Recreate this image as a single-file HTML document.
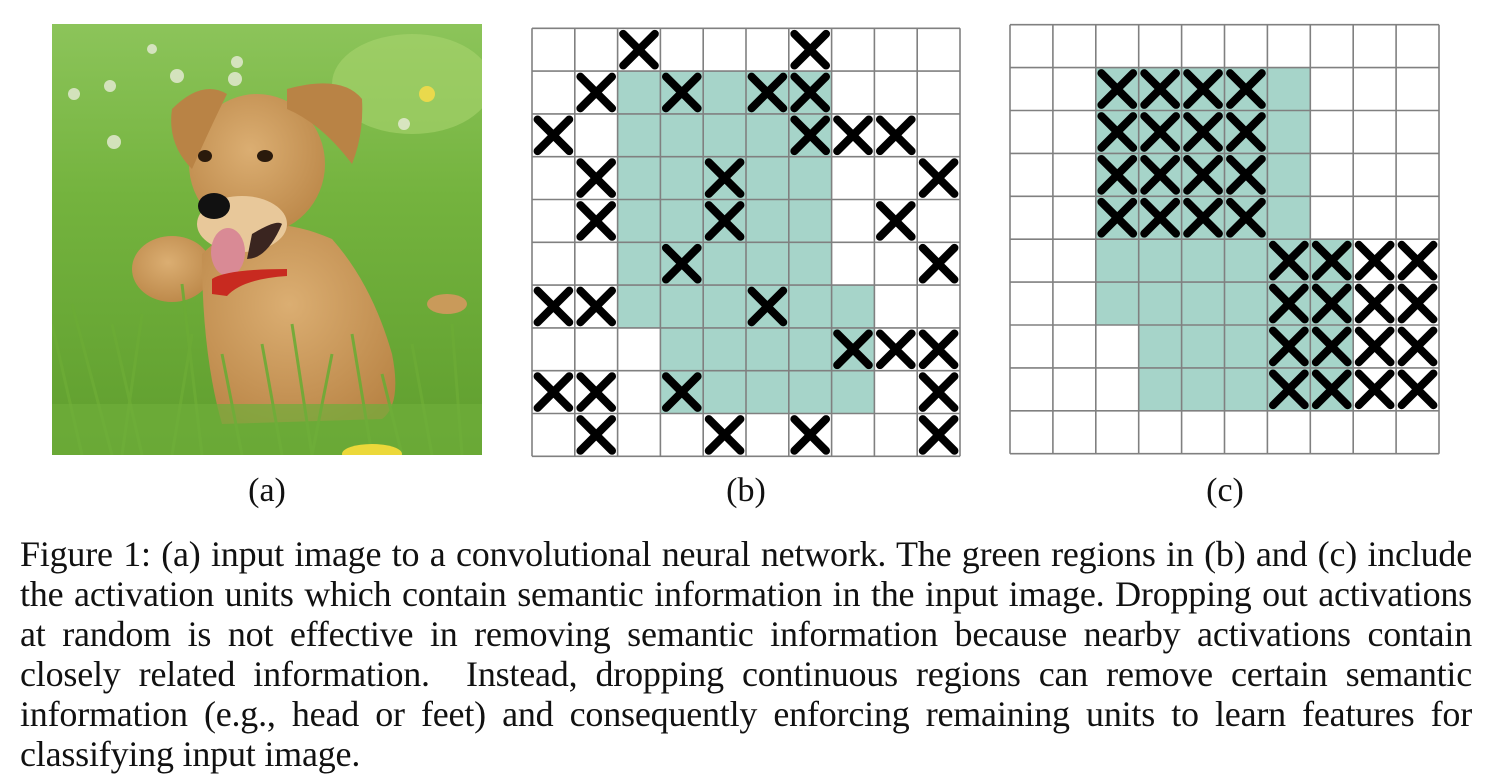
<!DOCTYPE html>
<html><head><meta charset="utf-8"><style>
html,body{margin:0;padding:0;background:#fff;}
body{width:1492px;height:781px;position:relative;overflow:hidden;font-family:"Liberation Serif",serif;color:#111;}
.lbl{position:absolute;font-size:34px;line-height:40px;top:471px;width:100px;text-align:center;}
#caption{position:absolute;left:20px;top:534px;width:1452px;font-size:36px;line-height:40px;letter-spacing:-0.2px;}
#caption div{height:40px;text-align:justify;text-align-last:justify;white-space:nowrap;}
#caption div.last{text-align-last:left;}
</style></head><body>
<svg style="position:absolute;left:52px;top:24px" width="430" height="431" viewBox="0 0 430 431">
<defs>
<linearGradient id="bg" x1="0" y1="0" x2="0" y2="1"><stop offset="0" stop-color="#8cc45a"/><stop offset="0.4" stop-color="#74b33e"/><stop offset="1" stop-color="#5f9e2e"/></linearGradient>
<radialGradient id="fur" cx="0.45" cy="0.4" r="0.7"><stop offset="0" stop-color="#dbae72"/><stop offset="1" stop-color="#b98445"/></radialGradient>
</defs>
<rect width="430" height="431" fill="url(#bg)"/>
<ellipse cx="360" cy="60" rx="80" ry="50" fill="#a9d46e" opacity="0.6"/>
<g fill="#e8ecd8" opacity="0.8"><circle cx="58" cy="62" r="6"/><circle cx="125" cy="52" r="7"/><circle cx="183" cy="55" r="7"/><circle cx="185" cy="38" r="6"/><circle cx="100" cy="25" r="5"/><circle cx="22" cy="70" r="6"/><circle cx="62" cy="118" r="7"/><circle cx="352" cy="100" r="6"/></g>
<circle cx="375" cy="70" r="8" fill="#e9d94c"/>
<ellipse cx="120" cy="245" rx="40" ry="33" fill="url(#fur)"/>
<ellipse cx="395" cy="280" rx="20" ry="10" fill="#c99a5a"/>
<path d="M150 230 Q200 180 280 215 Q320 260 340 330 Q350 380 330 395 L170 400 Q150 330 150 230Z" fill="url(#fur)"/>
<ellipse cx="205" cy="140" rx="68" ry="70" fill="url(#fur)"/>
<path d="M120 85 Q150 55 175 70 Q160 100 140 145 Q115 120 120 85Z" fill="#b98345"/>
<path d="M235 65 Q290 50 310 75 Q312 110 300 140 Q270 100 235 85Z" fill="#b98345"/>
<ellipse cx="190" cy="200" rx="45" ry="28" fill="#e8c89a"/>
<ellipse cx="153" cy="132" rx="7" ry="6" fill="#2a1a0c"/>
<ellipse cx="213" cy="132" rx="8" ry="6" fill="#2a1a0c"/>
<ellipse cx="162" cy="182" rx="16" ry="13" fill="#111"/>
<path d="M200 210 Q225 195 230 200 Q215 235 195 235Z" fill="#3a2520"/>
<ellipse cx="176" cy="228" rx="17" ry="24" fill="#d98a95"/>
<path d="M160 255 Q175 245 235 245 L235 252 Q190 255 175 272 L160 270Z" fill="#c82a20"/>
<g stroke="#6cab35" stroke-width="3" opacity="0.9">
<path d="M0 300 L30 431 M20 280 L60 431 M60 300 L90 431 M140 310 L120 431 M170 330 L190 431 M210 320 L230 431 M240 300 L260 431 M280 330 L260 431 M300 310 L320 431 M330 350 L350 431 M360 320 L380 431 M400 300 L410 431 M90 290 L70 431 M130 260 L150 431" fill="none"/>
</g>
<rect x="0" y="380" width="430" height="51" fill="#6fae3a" opacity="0.7"/>
<ellipse cx="320" cy="430" rx="30" ry="10" fill="#ecd83a"/>
</svg>
<svg id="gb" style="position:absolute;left:0;top:0" width="1492" height="781"></svg>
<div class="lbl" style="left:217px">(a)</div>
<div class="lbl" style="left:696px">(b)</div>
<div class="lbl" style="left:1175px">(c)</div>
<div id="caption">
<div>Figure 1: (a) input image to a convolutional neural network. The green regions in (b) and (c) include</div>
<div>the activation units which contain semantic information in the input image. Dropping out activations</div>
<div>at random is not effective in removing semantic information because nearby activations contain</div>
<div>closely related information.&nbsp; Instead, dropping continuous regions can remove certain semantic</div>
<div>information (e.g., head or feet) and consequently enforcing remaining units to learn features for</div>
<div class="last">classifying input image.</div>
</div>
<script>
const greenB = [[],[2,3,4,5,6],[2,3,4,5,6],[2,3,4,5,6],[2,3,4,5,6],[2,3,4,5,6],[2,3,4,5,6,7],[3,4,5,6,7],[3,4,5,6,7],[]];
const dropB = [[2,6],[1,3,5,6],[0,6,7,8],[1,4,9],[1,4,8],[3,9],[0,1,5],[7,8,9],[0,1,3,9],[1,4,6,9]];
const greenC = [[],[2,3,4,5,6],[2,3,4,5,6],[2,3,4,5,6],[2,3,4,5,6],[2,3,4,5,6,7],[2,3,4,5,6,7],[3,4,5,6,7],[3,4,5,6,7],[]];
const dropC = [[],[2,3,4,5],[2,3,4,5],[2,3,4,5],[2,3,4,5],[6,7,8,9],[6,7,8,9],[6,7,8,9],[6,7,8,9],[]];
const NS='http://www.w3.org/2000/svg';
const svg=document.getElementById('gb');
function drawGrid(x0,y0,cell,green,drop,name){
  const g=document.createElementNS(NS,'g');
  
  
  svg.appendChild(g);
  green.forEach((cols,r)=>cols.forEach(c=>{
    const rc=document.createElementNS(NS,'rect');
    
    
    rc.setAttribute('x',x0+c*cell);rc.setAttribute('y',y0+r*cell);
    rc.setAttribute('width',cell);rc.setAttribute('height',cell);
    rc.setAttribute('fill','#a6d4c9');g.appendChild(rc);
  }));
  for(let i=0;i<=10;i++){
    const l1=document.createElementNS(NS,'line');
    l1.setAttribute('x1',x0+i*cell);l1.setAttribute('x2',x0+i*cell);l1.setAttribute('y1',y0);l1.setAttribute('y2',y0+10*cell);
    l1.setAttribute('stroke','#808080');l1.setAttribute('stroke-width','1.6');g.appendChild(l1);
    const l2=document.createElementNS(NS,'line');
    l2.setAttribute('y1',y0+i*cell);l2.setAttribute('y2',y0+i*cell);l2.setAttribute('x1',x0);l2.setAttribute('x2',x0+10*cell);
    l2.setAttribute('stroke','#808080');l2.setAttribute('stroke-width','1.6');g.appendChild(l2);
  }
  drop.forEach((cols,r)=>cols.forEach(c=>{
    const cx=x0+(c+0.5)*cell, cy=y0+(r+0.5)*cell, h=cell*0.37;
    const p=document.createElementNS(NS,'path');
    
    
    p.setAttribute('d',`M${cx-h} ${cy-h}L${cx+h} ${cy+h}M${cx+h} ${cy-h}L${cx-h} ${cy+h}`);
    p.setAttribute('stroke','#000');p.setAttribute('stroke-width','8');p.setAttribute('stroke-linecap','round');
    g.appendChild(p);
  }));
}
drawGrid(532,28.3,42.8,greenB,dropB,'grid-b-random-dropout');
drawGrid(1010,24.7,42.9,greenC,dropC,'grid-c-block-dropout');
</script>
</body></html>
